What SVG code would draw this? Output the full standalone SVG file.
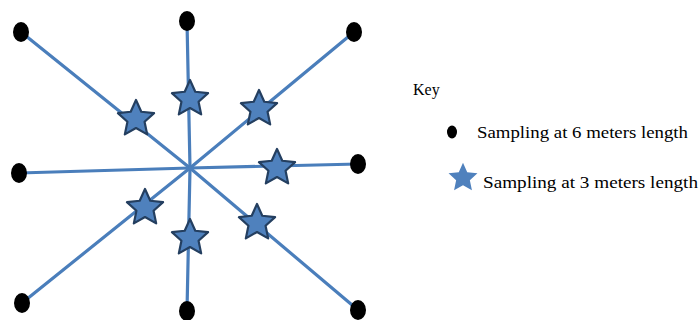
<svg xmlns="http://www.w3.org/2000/svg" xmlns:xlink="http://www.w3.org/1999/xlink" width="699" height="320" viewBox="0 0 699 320">
<style>
.ln{stroke:#4a7ebb;stroke-width:3.2;fill:none;stroke-linecap:round}
.dot{fill:#000}
.star{fill:#4f81bd;stroke:#243f60;stroke-width:2.2;stroke-linejoin:round}
.txt{font-family:"Liberation Serif","Times New Roman",serif;fill:#000}
</style>
<defs>
<path id="star" d="M0,-19 L5.29,-7.28 L18.07,-5.87 L8.56,2.78 L11.17,15.37 L0,9 L-11.17,15.37 L-8.56,2.78 L-18.07,-5.87 L-5.29,-7.28 Z"/>
</defs>
<rect width="699" height="320" fill="#fff"/>
<g id="connectors">
<line class="ln" x1="190" y1="168" x2="21" y2="32"/>
<line class="ln" x1="190" y1="168" x2="187" y2="21"/>
<line class="ln" x1="190" y1="168" x2="354" y2="32"/>
<line class="ln" x1="190" y1="168" x2="19" y2="173"/>
<line class="ln" x1="190" y1="168" x2="358" y2="164"/>
<line class="ln" x1="190" y1="168" x2="22" y2="303"/>
<line class="ln" x1="190" y1="168" x2="187" y2="311"/>
<line class="ln" x1="190" y1="168" x2="358" y2="310"/>
</g>
<g id="dot-top-left"><ellipse class="dot" cx="21" cy="32" rx="8" ry="10"/></g>
<g id="dot-top"><ellipse class="dot" cx="187" cy="21" rx="8" ry="10"/></g>
<g id="dot-top-right"><ellipse class="dot" cx="354" cy="32" rx="8" ry="10"/></g>
<g id="dot-left"><ellipse class="dot" cx="19" cy="173" rx="8" ry="10"/></g>
<g id="dot-right"><ellipse class="dot" cx="358" cy="164" rx="8" ry="10"/></g>
<g id="dot-bottom-left"><ellipse class="dot" cx="22" cy="303" rx="8" ry="10"/></g>
<g id="dot-bottom"><ellipse class="dot" cx="187" cy="311" rx="8" ry="10"/></g>
<g id="dot-bottom-right"><ellipse class="dot" cx="358" cy="310" rx="8" ry="10"/></g>
<g id="star-top"><use class="star" xlink:href="#star" href="#star" transform="translate(190,99)"/></g>
<g id="star-upper-left"><use class="star" xlink:href="#star" href="#star" transform="translate(136,119)"/></g>
<g id="star-upper-right"><use class="star" xlink:href="#star" href="#star" transform="translate(259,109)"/></g>
<g id="star-right"><use class="star" xlink:href="#star" href="#star" transform="translate(277,168)"/></g>
<g id="star-lower-left"><use class="star" xlink:href="#star" href="#star" transform="translate(145,208)"/></g>
<g id="star-bottom"><use class="star" xlink:href="#star" href="#star" transform="translate(190,238)"/></g>
<g id="star-lower-right"><use class="star" xlink:href="#star" href="#star" transform="translate(257,223)"/></g>
<g id="legend">
<text class="txt" x="413" y="95" font-size="16">Key</text>
<ellipse class="dot" cx="452" cy="132" rx="5" ry="6.5"/>
<text class="txt" x="477" y="138" font-size="17" textLength="211" lengthAdjust="spacingAndGlyphs">Sampling at 6 meters length</text>
<use xlink:href="#star" href="#star" transform="translate(463,178) scale(0.8)" fill="#4f81bd"/>
<text class="txt" x="483" y="188" font-size="17" textLength="215" lengthAdjust="spacingAndGlyphs">Sampling at 3 meters length</text>
</g>
</svg>
